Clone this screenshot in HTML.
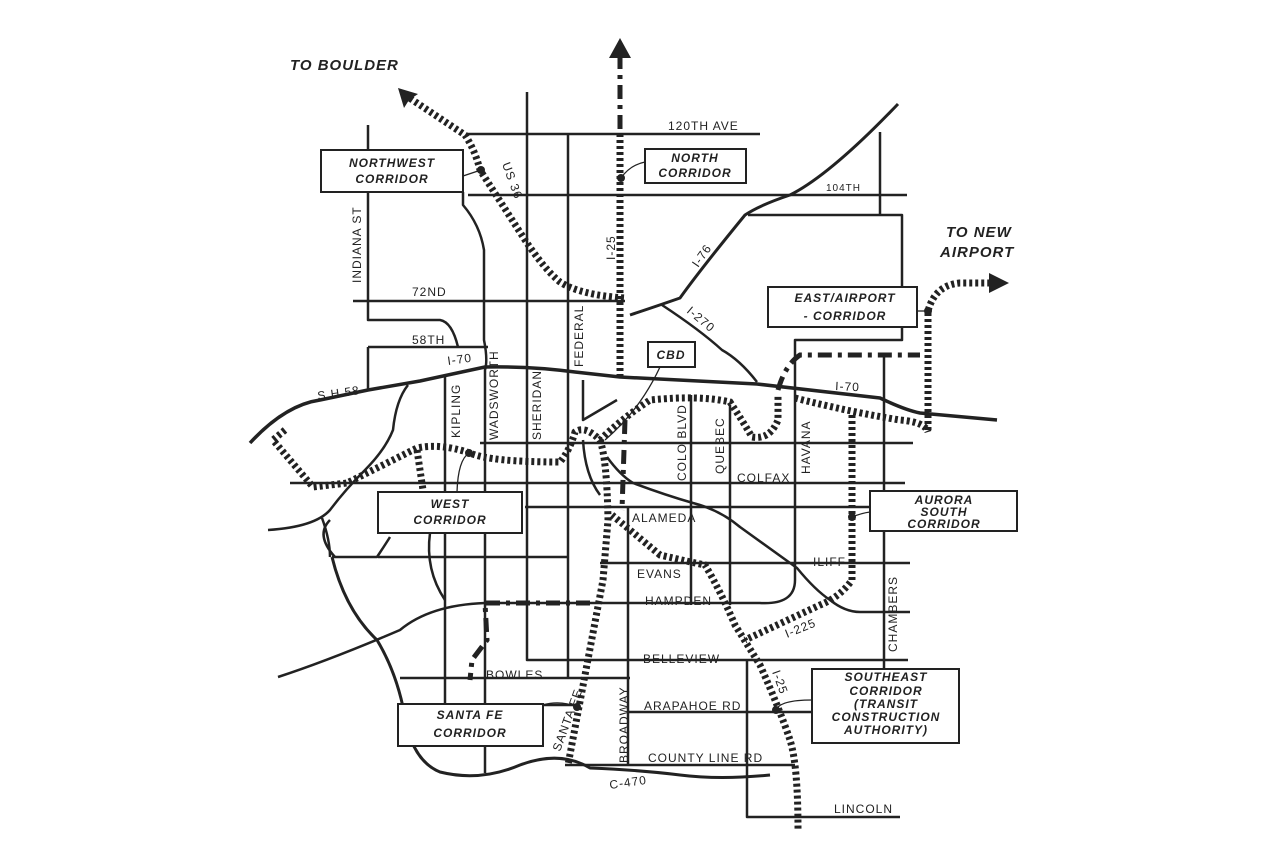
<!DOCTYPE html>
<html><head><meta charset="utf-8"><style>
html,body{margin:0;padding:0;background:#fff;}
svg{display:block;}
text{font-family:"Liberation Sans",sans-serif;fill:#222;}
.lb{font-size:12px;letter-spacing:1px;}
.bx{font-size:12px;font-weight:bold;font-style:italic;letter-spacing:1px;}
</style></head><body>
<svg width="1280" height="853" viewBox="0 0 1280 853" xmlns="http://www.w3.org/2000/svg">
<rect width="1280" height="853" fill="#fff"/>
<g fill="none" stroke="#222" stroke-width="2.5" stroke-linejoin="round">
<path d="M468 134H760"/>
<path d="M468 195H907"/>
<path d="M353 301H625"/>
<path d="M368 125V150M368 192V320H440Q452 322 458 347"/>
<path d="M368 347H488M368 347V390"/>
<path d="M463 192V205Q480 225 484 250V340Q488 360 485 370V500M485 533V773"/>
<path d="M527 92V660H908"/>
<path d="M568 134V678"/>
<path d="M445 376V492M445 533V705"/>
<path d="M480 443H913"/>
<path d="M290 483H905"/>
<path d="M525 507H870"/>
<path d="M378 557H567M600 563H910"/>
<path d="M278 677Q330 660 400 630Q430 605 485 603H760Q795 605 795 580V340H902V327M902 288V215H748M880 215V132"/>
<path d="M400 678H630"/>
<path d="M628 508V766"/>
<path d="M691 395V605"/>
<path d="M730 405V605"/>
<path d="M884 353V669"/>
<path d="M628 712H812"/>
<path d="M565 765H795"/>
<path d="M747 660V817H900"/>
<path d="M577 705H543"/>
<path d="M250 443Q285 405 320 400L368 390L420 381L485 367Q530 366 575 372L620 377L757 384L880 398Q905 410 920 413L997 420" stroke-width="3.5"/>
<path d="M408 385Q396 400 393 430Q385 450 365 470Q345 490 330 510Q315 527 268 530"/>
<path d="M330 520Q315 535 335 557M322 518Q330 540 330 557"/>
<path d="M332 557Q345 610 377 640Q395 670 403 707Q410 760 440 772Q480 782 520 765Q560 750 590 768Q640 770 680 775Q720 780 770 775" stroke-width="3"/>
<path d="M332 557H377Q385 545 390 537"/>
<path d="M430 533Q425 570 445 600"/>
<path d="M630 315Q660 305 680 298Q700 270 745 215Q760 205 790 195Q830 175 898 104" stroke-width="3"/>
<path d="M662 305Q700 330 722 350Q740 360 757 382"/>
<path d="M583 380V420L617 400M583 440Q585 475 600 495"/>
<path d="M607 457Q620 475 633 483Q665 495 693 503Q720 510 740 527L797 568Q815 590 830 600Q845 612 860 612H910"/>
</g>
<g fill="none" stroke="#222" stroke-width="7" stroke-dasharray="3 3">
<path d="M405 95L465 135Q475 150 480 170L525 240Q545 270 560 282Q580 295 625 298"/>
<path d="M620 134V300L620 378"/>
<path d="M285 430L273 440L313 487Q330 485 347 483L417 448Q440 443 470 453Q490 462 560 462Q570 450 575 432Q585 425 600 440"/>
<path d="M417 450L423 490"/>
<path d="M600 440Q620 420 650 400Q700 395 730 402Q742 420 752 437Q770 440 778 420V395"/>
<path d="M795 398Q850 412 900 420Q925 422 928 432"/>
<path d="M928 430V311Q935 285 960 283H990"/>
<path d="M852 415V580Q840 597 820 605L745 640"/>
<path d="M600 440Q607 460 608 520L603 580L568 765"/>
<path d="M612 515Q630 530 660 555Q690 562 705 565Q720 590 735 625L760 665Q780 710 790 740Q798 765 798 830"/>
</g>
<g fill="none" stroke="#222" stroke-width="5" stroke-dasharray="14 6 4 6">
<path d="M620 55V134"/>
<path d="M625 420L622 510"/>
<path d="M778 390Q785 365 800 355H920"/>
<path d="M590 603H485L487 640L472 660L470 680"/>
</g>
<polygon points="398,88 418,94 409,100 404,108" fill="#222"/>
<polygon points="620,38 631,58 609,58" fill="#222"/>
<polygon points="1009,283 989,273 989,293" fill="#222"/>
<g fill="#222"><circle cx="481" cy="170" r="4"/><circle cx="621" cy="178" r="4"/><circle cx="928" cy="311" r="4"/><circle cx="852" cy="517" r="4"/><circle cx="469" cy="453" r="4"/><circle cx="776" cy="710" r="4"/><circle cx="577" cy="707" r="4"/></g>
<g fill="none" stroke="#222" stroke-width="1.3">
<path d="M463 176Q472 173 481 170"/><path d="M621 178Q630 165 645 162"/>
<path d="M917 311H928"/><path d="M852 517Q862 513 870 512"/>
<path d="M469 453Q458 460 457 492"/><path d="M776 710Q780 700 812 700"/>
<path d="M543 705Q560 700 577 707"/><path d="M660 367Q640 410 605 440"/>
</g>
<g fill="#fff" stroke="#222" stroke-width="2">
<rect x="321" y="150" width="142" height="42"/>
<rect x="645" y="149" width="101" height="34"/>
<rect x="768" y="287" width="149" height="40"/>
<rect x="648" y="342" width="47" height="25"/>
<rect x="378" y="492" width="144" height="41"/>
<rect x="870" y="491" width="147" height="40"/>
<rect x="398" y="704" width="145" height="42"/>
<rect x="812" y="669" width="147" height="74"/>
</g>
<g class="bx" text-anchor="middle">
<text x="392" y="167">NORTHWEST</text><text x="392" y="183">CORRIDOR</text>
<text x="695" y="162">NORTH</text><text x="695" y="177">CORRIDOR</text>
<text x="845" y="302">EAST/AIRPORT</text><text x="845" y="320">- CORRIDOR</text>
<text x="671" y="359">CBD</text>
<text x="450" y="508">WEST</text><text x="450" y="524">CORRIDOR</text>
<text x="944" y="504">AURORA</text><text x="944" y="516">SOUTH</text><text x="944" y="528">CORRIDOR</text>
<text x="470" y="719">SANTA FE</text><text x="470" y="737">CORRIDOR</text>
<text x="886" y="681">SOUTHEAST</text><text x="886" y="695">CORRIDOR</text><text x="886" y="708">(TRANSIT</text><text x="886" y="721">CONSTRUCTION</text><text x="886" y="734">AUTHORITY)</text>
</g>
<g class="bx" style="font-size:15px">
<text x="290" y="70">TO BOULDER</text>
<text x="946" y="237">TO NEW</text><text x="940" y="257">AIRPORT</text>
</g>
<g class="lb">
<text x="668" y="130">120TH AVE</text>
<text x="826" y="191" font-size="10">104TH</text>
<text x="412" y="296">72ND</text>
<text x="412" y="344">58TH</text>
<text x="448" y="365" transform="rotate(-8 448 365)">I-70</text>
<text x="318" y="400" transform="rotate(-8 318 400)">S H 58</text>
<text x="835" y="390" transform="rotate(3 835 390)">I-70</text>
<text x="737" y="482">COLFAX</text>
<text x="632" y="522">ALAMEDA</text>
<text x="637" y="578">EVANS</text>
<text x="645" y="605">HAMPDEN</text>
<text x="643" y="663">BELLEVIEW</text>
<text x="486" y="679">BOWLES</text>
<text x="644" y="710">ARAPAHOE RD</text>
<text x="648" y="762">COUNTY LINE RD</text>
<text x="610" y="789" transform="rotate(-8 610 789)">C-470</text>
<text x="834" y="813">LINCOLN</text>
<text x="813" y="566">ILIFF</text>
<text x="361" y="283" transform="rotate(-90 361 283)">INDIANA ST</text>
<text x="460" y="438" transform="rotate(-90 460 438)">KIPLING</text>
<text x="498" y="440" transform="rotate(-90 498 440)">WADSWORTH</text>
<text x="541" y="440" transform="rotate(-90 541 440)">SHERIDAN</text>
<text x="583" y="367" transform="rotate(-90 583 367)">FEDERAL</text>
<text x="615" y="260" transform="rotate(-90 615 260)">I-25</text>
<text x="686" y="481" transform="rotate(-90 686 481)">COLO BLVD</text>
<text x="724" y="474" transform="rotate(-90 724 474)">QUEBEC</text>
<text x="810" y="474" transform="rotate(-90 810 474)">HAVANA</text>
<text x="897" y="652" transform="rotate(-90 897 652)">CHAMBERS</text>
<text x="628" y="763" transform="rotate(-90 628 763)">BROADWAY</text>
<text x="560" y="752" transform="rotate(-70 560 752)">SANTA FE</text>
<text x="502" y="164" transform="rotate(70 502 164)">US 36</text>
<text x="698" y="268" transform="rotate(-55 698 268)">I-76</text>
<text x="686" y="312" transform="rotate(40 686 312)">I-270</text>
<text x="787" y="638" transform="rotate(-22 787 638)">I-225</text>
<text x="772" y="672" transform="rotate(70 772 672)">I-25</text>
</g>
</svg>
</body></html>
